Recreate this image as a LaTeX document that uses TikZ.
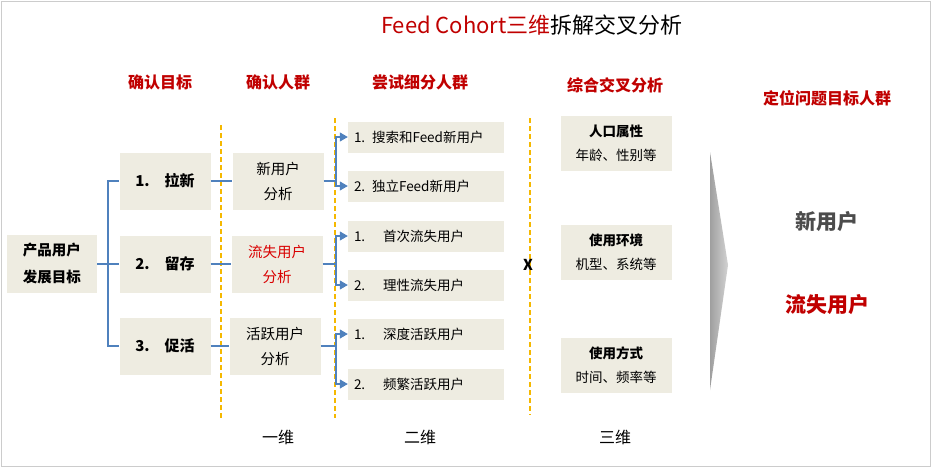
\documentclass[tikz,border=0pt]{standalone}
\usepackage{fontspec}
\setmainfont{Noto Sans CJK SC}
\usetikzlibrary{arrows.meta}
\definecolor{boxfill}{HTML}{EEECE1}
\definecolor{linkblue}{HTML}{4F81BD}
\definecolor{headred}{HTML}{C00000}
\definecolor{guide}{HTML}{F5B800}
\tikzset{
  cell/.style={fill=boxfill, minimum width=#1, font=\fontsize{14.5}{25}\selectfont, align=center, inner sep=0pt},
  cell/.default=91pt,
  head/.style={text=headred, font=\fontsize{16}{19}\selectfont\bfseries},
  link/.style={draw=linkblue, line width=1.1pt},
  guideline/.style={draw=guide, dash pattern=on 5pt off 3pt, line width=1.2pt},
}
\begin{document}
\begin{tikzpicture}[x=1pt, y=-1pt]
\useasboundingbox (0,0) rectangle (931,467);
\draw[gray!40] (1,1) rectangle (930,466);
% title and headings
\node (title) at (532,25) {\fontsize{22}{25}\selectfont\textcolor{headred}{Feed Cohort三维}拆解交叉分析};
\node[head] (h1) at (160,82) {确认目标};
\node[head] (h2) at (278,82) {确认人群};
\node[head] (h3) at (420,82) {尝试细分人群};
\node[head] (h4) at (615,85) {综合交叉分析};
\node[head] (h5) at (827,98) {定位问题目标人群};
% guides
\draw[guideline] (221,125) -- (221,418);
\draw[guideline] (335,118) -- (335,418);
\draw[guideline] (530,118) -- (530,415);
% goals
\node[cell=90pt, minimum height=58pt, font=\fontsize{14.5}{27}\selectfont\bfseries] (goal) at (52,264) {产品用户\\发展目标};
\node[cell, minimum height=57pt, font=\fontsize{15}{17}\selectfont\bfseries] (g1) at (165,181) {1.\quad 拉新};
\node[cell, minimum height=57pt, font=\fontsize{15}{17}\selectfont\bfseries] (g2) at (165,264) {2.\quad 留存};
\node[cell, minimum height=57pt, font=\fontsize{15}{17}\selectfont\bfseries] (g3) at (165,346) {3.\quad 促活};
% groups
\node[cell, minimum height=57pt] (p1) at (278,181) {新用户\\分析};
\node[cell, minimum height=57pt, text=red!85!black] (p2) at (277,264) {流失用户\\分析};
\node[cell, minimum height=57pt] (p3) at (275,346) {活跃用户\\分析};
% subgroups
\foreach \n/\y/\t in {s1/137/{1. 搜索和Feed新用户}, s2/186/{2. 独立Feed新用户},
  s3/236/{1.\quad\ 首次流失用户}, s4/285/{2.\quad\ 理性流失用户},
  s5/334/{1.\quad\ 深度活跃用户}, s6/384/{2.\quad\ 频繁活跃用户}}
  \node[cell=156pt, minimum height=31pt, align=left, text width=144pt, font=\fontsize{13.5}{16}\selectfont] (\n) at (426,\y) {\t};
% dimensions
\node[cell=111pt, minimum height=55pt, font=\fontsize{13.5}{24}\selectfont] (d1) at (616,143) {\textbf{人口属性}\\年龄、性别等};
\node[cell=111pt, minimum height=55pt, font=\fontsize{13.5}{24}\selectfont] (d2) at (616,252) {\textbf{使用环境}\\机型、系统等};
\node[cell=111pt, minimum height=55pt, font=\fontsize{13.5}{24}\selectfont] (d3) at (616,365) {\textbf{使用方式}\\时间、频率等};
\node[font=\fontsize{15}{18}\selectfont\bfseries] (cross) at (528,265) {X};
% result
\shade[left color=gray!75, right color=gray!35] (710,152) -- (728,265) -- (710,390) -- cycle;
\node[font=\fontsize{21}{25}\selectfont\bfseries, text=black!70] (r1) at (827,222) {新用户};
\node[font=\fontsize{21}{25}\selectfont\bfseries, text=headred] (r2) at (827,305) {流失用户};
% bottom labels
\node[font=\fontsize{16}{19}\selectfont] (b1) at (278,437) {一维};
\node[font=\fontsize{16}{19}\selectfont] (b2) at (420,437) {二维};
\node[font=\fontsize{16}{19}\selectfont] (b3) at (615,437) {三维};
% connectors
\coordinate (fork) at (108,264);
\draw[link] (goal.east) -- (fork);
\foreach \g in {g1,g2,g3} \draw[link] (fork) |- (\g.west);
\foreach \g/\p in {g1/p1,g2/p2,g3/p3} \draw[link] (\g.east) -- (\p.west);
\foreach \p/\a/\b in {p1/s1/s2,p2/s3/s4,p3/s5/s6} {
  \draw[link] (\p.east) -- (336,0 |- \p.east);
  \draw[link, -{Triangle[length=8pt,width=9pt]}] (336,0 |- \p.east) |- (\a.west);
  \draw[link, -{Triangle[length=8pt,width=9pt]}] (336,0 |- \p.east) |- (\b.west);
}
\end{tikzpicture}
\end{document}
